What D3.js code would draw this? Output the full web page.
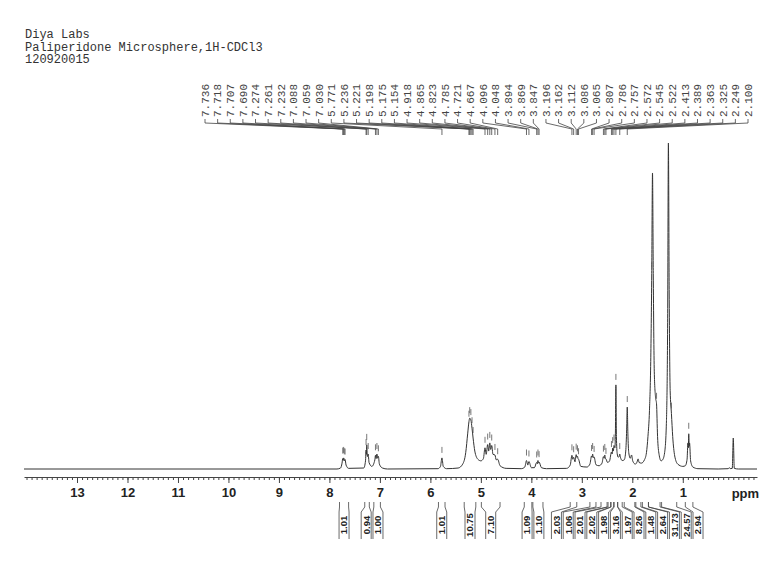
<!DOCTYPE html>
<html>
<head>
<meta charset="utf-8">
<script src="https://cdn.jsdelivr.net/npm/d3@7"></script>
<style>
  html, body { margin: 0; padding: 0; background: #fff; }
  svg { display: block; }
</style>
</head>
<body>
<div id="container"></div>
<script>
// header lines printed top-left
const headerLines = ["Diya Labs", "Paliperidone Microsphere,1H-CDCl3", "120920015"];

// picked peaks (ppm) with labels along the top
const peakLabels = [7.736, 7.718, 7.707, 7.690, 7.274, 7.261, 7.232, 7.088, 7.059, 7.030,
  5.771, 5.236, 5.221, 5.198, 5.175, 5.154, 4.918, 4.865, 4.823, 4.785, 4.721, 4.667,
  4.096, 4.048, 3.894, 3.869, 3.847, 3.196, 3.162, 3.112, 3.086, 3.065,
  2.807, 2.786, 2.757, 2.572, 2.545, 2.522, 2.413, 2.389, 2.363, 2.325, 2.249, 2.100];
// picked peaks whose labels are not printed
const extraPicks = [1.615, 1.52, 1.225, 0.882];

// spectrum (ppm, relative intensity)
const specPpm = [14.05, 7.85, 7.78, 7.75, 7.736, 7.727, 7.718, 7.707, 7.698, 7.690, 7.67, 7.62,
  7.32, 7.285, 7.274, 7.268, 7.261, 7.248, 7.232, 7.215, 7.16, 7.10, 7.088, 7.075, 7.059, 7.045, 7.030, 7.01, 6.95, 6.85,
  5.85, 5.80, 5.771, 5.745, 5.68, 5.45, 5.36, 5.30, 5.26, 5.236, 5.221, 5.198, 5.175, 5.154, 5.12, 5.06, 5.00,
  4.95, 4.918, 4.895, 4.865, 4.845, 4.823, 4.805, 4.785, 4.76, 4.721, 4.695, 4.667, 4.62, 4.50,
  4.20, 4.13, 4.096, 4.07, 4.048, 4.00, 3.94, 3.894, 3.88, 3.869, 3.858, 3.847, 3.80, 3.70,
  3.30, 3.23, 3.196, 3.18, 3.162, 3.135, 3.112, 3.098, 3.086, 3.075, 3.065, 3.02,
  2.90, 2.84, 2.807, 2.796, 2.786, 2.772, 2.757, 2.72, 2.66, 2.60, 2.572, 2.558, 2.545, 2.533, 2.522, 2.49,
  2.45, 2.413, 2.40, 2.389, 2.375, 2.363, 2.345, 2.335, 2.325, 2.315, 2.30, 2.28, 2.262, 2.249, 2.235, 2.20,
  2.16, 2.13, 2.112, 2.100, 2.088, 2.07, 2.04, 2.015, 1.99, 1.94, 1.905, 1.885, 1.865, 1.82,
  1.76, 1.72, 1.69, 1.66, 1.635, 1.615, 1.60, 1.585, 1.565, 1.54, 1.52, 1.50, 1.47, 1.43,
  1.40, 1.36, 1.325, 1.30, 1.285, 1.27, 1.25, 1.225, 1.20, 1.16, 1.10, 1.00,
  0.95, 0.915, 0.898, 0.89, 0.882, 0.873, 0.866, 0.845, 0.80, 0.70,
  0.30, 0.10, 0.075, 0.06, 0.02, 0.00, -0.02, -0.10, -0.47];
const specInt = [0, 0, 0.3, 1.8, 3.2, 2.6, 3.4, 3.0, 2.5, 2.9, 1.2, 0.2,
  0.3, 2.5, 5.8, 4.5, 7.4, 3.8, 4.6, 2.0, 0.8, 2.8, 4.2, 3.2, 4.6, 3.3, 3.9, 1.5, 0.3, 0,
  0.1, 0.8, 3.4, 0.8, 0.1, 0.3, 1.5, 5, 11, 14.5, 15.6, 15.0, 12.5, 9.5, 5.5, 3.0, 2.5,
  3.2, 6.5, 4.5, 7.5, 5.5, 8.0, 6.0, 7.2, 4.5, 4.3, 2.8, 3.0, 1.0, 0.2,
  0.1, 0.6, 2.6, 1.2, 2.3, 0.4, 0.4, 2.0, 1.6, 2.6, 1.8, 2.1, 0.4, 0.1,
  0.2, 1.2, 4.2, 3.0, 3.6, 2.2, 4.4, 3.6, 3.9, 3.2, 3.0, 0.8,
  0.6, 1.5, 4.0, 3.6, 4.6, 3.5, 3.7, 1.3, 1.0, 1.8, 3.8, 3.3, 4.3, 3.2, 3.1, 2.0,
  2.5, 5.2, 4.6, 6.4, 5.5, 7.2, 6.5, 11, 25.8, 10, 4.8, 3.6, 3.8, 4.6, 3.6, 2.6,
  2.8, 5.5, 12, 19, 11, 5, 3.3, 4.3, 2.4, 1.5, 2.2, 3.1, 2.0, 1.8,
  2.8, 5, 10, 18, 33, 60, 90.8, 60, 30, 22, 20, 10, 4.5, 2.5,
  2.8, 5, 14, 45, 100, 55, 24, 17, 10, 4, 1.5, 0.8,
  1.0, 3, 8, 6.5, 10.8, 7, 8, 2.5, 0.6, 0.1,
  0, 0.1, 0.4, 0.1, 0.2, 9.5, 0.2, 0, 0];

// integrals below the axis
const integralFrom = [7.80, 7.30, 7.12, 5.84, 5.33, 4.99, 4.14, 3.97, 3.23, 2.84, 2.62, 2.48, 2.42, 2.36, 2.29, 2.16, 1.93, 1.80, 1.68, 1.42, 0.95];
const integralTo   = [7.62, 7.21, 6.99, 5.71, 5.10, 4.62, 3.99, 3.77, 3.10, 2.72, 2.50, 2.43, 2.37, 2.29, 2.20, 1.95, 1.83, 1.68, 1.45, 1.12, 0.80];
const integralValues = ["1.01", "0.94", "1.00", "1.01", "10.75", "7.10", "1.09", "1.10", "2.03", "1.06", "2.01", "2.02", "1.98", "3.16", "1.97", "8.26", "1.48", "2.64", "31.73", "24.57", "2.94"];

// axis tick labels
const majorTicks = [13, 12, 11, 10, 9, 8, 7, 6, 5, 4, 3, 2, 1];

const width = 766, height = 571;
const svg = d3.select("#container").append("svg")
  .attr("width", width).attr("height", height);

const x = d3.scaleLinear().domain([14.05, -0.47]).range([24, 757]);
const y = d3.scaleLinear().domain([0, 100]).range([469, 143]);

// header
svg.append("g").selectAll("text").data(headerLines).join("text")
  .attr("x", 25).attr("y", (d, i) => 38 + i * 12.6)
  .style("font-family", "'Liberation Mono', monospace")
  .style("font-size", "12px").style("fill", "#333")
  .text(d => d);

// peak labels and their leader lines
const labelX = d3.scalePoint().domain(d3.range(peakLabels.length)).range([205, 748]);
const gl = svg.append("g");
peakLabels.forEach((p, i) => {
  const lx = labelX(i), px = x(p);
  gl.append("text")
    .attr("transform", `translate(${lx},117) rotate(-90)`)
    .attr("dy", "0.35em")
    .style("font-family", "'Liberation Mono', monospace")
    .style("font-size", "11px").style("fill", "#444")
    .text(p.toFixed(3));
  gl.append("path")
    .attr("d", `M${lx},119V123L${px},129V135`)
    .attr("fill", "none").attr("stroke", "#444").attr("stroke-width", 0.8);
});

// spectrum
const line = d3.line()
  .x((d, i) => x(specPpm[i]))
  .y(d => y(d))
  .curve(d3.curveMonotoneX);
svg.append("path")
  .attr("d", line(specInt))
  .attr("fill", "none").attr("stroke", "#333").attr("stroke-width", 1);

// small peak-pick marks above the curve
const interp = d3.scaleLinear().domain(specPpm).range(specInt);
svg.append("g").selectAll("path").data(peakLabels.concat(extraPicks)).join("path")
  .attr("d", p => { const yy = y(interp(p)); return `M${x(p)},${yy - 11}V${yy - 5}`; })
  .attr("stroke", "#555").attr("stroke-width", 0.8);

// axis
const axisY = 477;
const minorTicks = d3.range(-4, 141).map(d => d / 10);
const minorAxis = svg.append("g").attr("transform", `translate(0,${axisY})`)
  .call(d3.axisBottom(x).tickValues(minorTicks).tickSize(3).tickSizeOuter(0).tickFormat(""));
minorAxis.select(".domain").remove();
minorAxis.selectAll("line").attr("stroke", "#444");

const majorAxis = svg.append("g").attr("transform", `translate(0,${axisY})`)
  .call(d3.axisBottom(x).tickValues(majorTicks).tickSize(6).tickSizeOuter(0).tickPadding(5).tickFormat(d3.format("d")));
majorAxis.select(".domain").attr("stroke", "#444");
majorAxis.selectAll("line").attr("stroke", "#444");
majorAxis.selectAll("text")
  .style("font-family", "'Liberation Sans', Arial, sans-serif")
  .style("font-size", "13px").style("font-weight", "bold").style("fill", "#222");

svg.append("text")
  .attr("x", x(-0.24)).attr("y", 497.5)
  .attr("text-anchor", "middle")
  .style("font-family", "'Liberation Sans', Arial, sans-serif")
  .style("font-size", "13px").style("font-weight", "bold").style("fill", "#222")
  .text("ppm");

// integrals: spread the boxes so they don't overlap
function spread(cs, gap) {
  let cl = cs.map(c => ({ items: [c] }));
  const pos = g => {
    const m = d3.mean(g.items), n = g.items.length;
    return d3.range(n).map(k => m + (k - (n - 1) / 2) * gap);
  };
  let merged = true;
  while (merged) {
    merged = false;
    for (let i = 0; i < cl.length - 1; i++) {
      const a = pos(cl[i]), b = pos(cl[i + 1]);
      if (b[0] - a[a.length - 1] < gap) {
        cl[i] = { items: cl[i].items.concat(cl[i + 1].items) };
        cl.splice(i + 1, 1);
        merged = true;
        break;
      }
    }
  }
  return cl.flatMap(pos);
}
const centers = integralFrom.map((f, i) => x((f + integralTo[i]) / 2));
const boxX = spread(centers, 11.8);
const gi = svg.append("g");
integralValues.forEach((v, i) => {
  const x1 = x(integralFrom[i]), x2 = x(integralTo[i]), bx = boxX[i], hw = 5;
  gi.append("path")
    .attr("d", `M${x1},502V507L${bx - hw},512V539M${x2},502V507L${bx + hw},512V539`)
    .attr("fill", "none").attr("stroke", "#444").attr("stroke-width", 0.8);
  gi.append("text")
    .attr("transform", `translate(${bx},525) rotate(-90)`)
    .attr("dy", "0.35em").attr("text-anchor", "middle")
    .style("font-family", "'Liberation Sans', Arial, sans-serif")
    .style("font-size", "9.5px").style("font-weight", "bold").style("fill", "#222")
    .text(v);
});
</script>
</body>
</html>
